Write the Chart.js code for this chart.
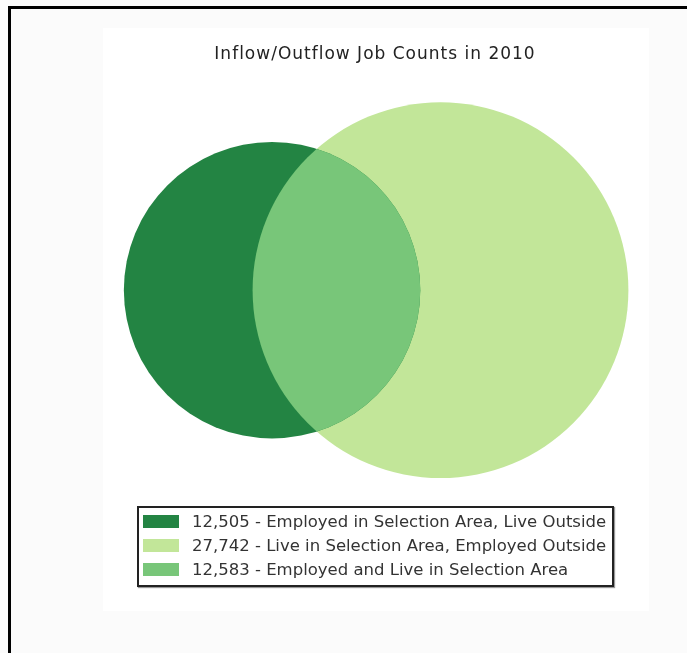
<!DOCTYPE html>
<html>
<head>
<meta charset="utf-8">
<script src="https://cdn.jsdelivr.net/npm/chart.js@4"></script>
<style>
  body { margin: 0; background: #fbfbfb; font-family: 'DejaVu Sans', sans-serif; }
  #frame { position: absolute; left: 8px; top: 6px; width: 700px; height: 660px; border-top: 3px solid #000; border-left: 3px solid #000; }
  #panel { position: absolute; left: 103px; top: 28px; width: 546px; height: 583px; background: #fff; }
  #chart { position: absolute; left: 0; top: 0; }
  #legend { position: absolute; left: 137px; top: 506px; width: 477px; height: 81px; box-sizing: border-box;
            border: 2px solid #222; box-shadow: 1px 1px 1px #999; background: #fff; padding: 1px 0 0 4px; }
  .row { height: 24px; display: flex; align-items: center; }
  .swatch { width: 36px; height: 13px; margin-right: 13px; }
  .txt { font-size: 16.5px; color: #333; white-space: nowrap; }
</style>
</head>
<body>
<div id="frame"></div>
<div id="panel"></div>
<canvas id="chart" width="687" height="653"></canvas>
<div id="legend"></div>
<script>
// job counts, 2010
const labels = ['Employed in Selection Area, Live Outside', 'Live in Selection Area, Employed Outside', 'Employed and Live in Selection Area'];
const jobCounts = [12505, 27742, 12583];
const colors = ['#238443', '#c2e699', '#78c679'];
// circle centres along x, in sqrt(jobs) units
const centerX = [0, 180];

// circle radius in sqrt(jobs) units: own-only + shared
function circleRadius(i) {
  return Math.sqrt(jobCounts[i] + jobCounts[2]);
}

const overlapPlugin = {
  id: 'overlap',
  beforeDraw(chart) { chart.ctx.letterSpacing = '1px'; },
  beforeDatasetsDraw(chart) { chart.ctx.letterSpacing = '0px'; },
  afterDatasetsDraw(chart) {
    const a = chart.getDatasetMeta(0).data[0];
    const b = chart.getDatasetMeta(1).data[0];
    if (!a || !b || !(a.options.radius > 0) || !(b.options.radius > 0)) return;
    const ctx = chart.ctx;
    ctx.save();
    ctx.beginPath();
    ctx.arc(a.x, a.y, a.options.radius, 0, Math.PI * 2);
    ctx.clip();
    ctx.beginPath();
    ctx.arc(b.x, b.y, b.options.radius, 0, Math.PI * 2);
    ctx.fillStyle = chart.data.datasets[2].backgroundColor;
    ctx.fill();
    ctx.restore();
  }
};

const chart = new Chart(document.getElementById('chart'), {
  type: 'bubble',
  data: {
    datasets: [0, 1, 2].map(i => ({
      label: jobCounts[i].toLocaleString('en-US') + ' - ' + labels[i],
      data: i < 2 ? [{ x: centerX[i], y: 0 }] : [],
      backgroundColor: colors[i],
      borderWidth: 0,
      clip: false
    }))
  },
  options: {
    responsive: false,
    animation: false,
    events: [],
    layout: { autoPadding: false, padding: { left: 113, right: 50, top: 44, bottom: 145 } },
    scales: {
      x: { type: 'linear', display: false, min: -170, max: 390 },
      y: { type: 'linear', display: false, min: -1, max: 1 }
    },
    plugins: {
      legend: { display: false },
      tooltip: { enabled: false },
      title: {
        display: true,
        text: 'Inflow/Outflow Job Counts in 2010',
        color: '#222',
        font: { family: 'DejaVu Sans', size: 17, weight: 'normal' },
        padding: { top: 0, bottom: 8 }
      }
    }
  },
  plugins: [overlapPlugin]
});

// once the x scale is laid out, turn each circle's radius into pixels
const xs = chart.scales.x;
[0, 1].forEach(i => {
  const r = xs.getPixelForValue(circleRadius(i)) - xs.getPixelForValue(0);
  chart.data.datasets[i].data = [{ x: centerX[i], y: 0, r: r }];
});
chart.update();

// boxed legend under the diagram
const legend = document.getElementById('legend');
chart.data.datasets.forEach(ds => {
  const row = document.createElement('div');
  row.className = 'row';
  const sw = document.createElement('span');
  sw.className = 'swatch';
  sw.style.background = ds.backgroundColor;
  const t = document.createElement('span');
  t.className = 'txt';
  t.textContent = ds.label;
  row.appendChild(sw);
  row.appendChild(t);
  legend.appendChild(row);
});
</script>
</body>
</html>
